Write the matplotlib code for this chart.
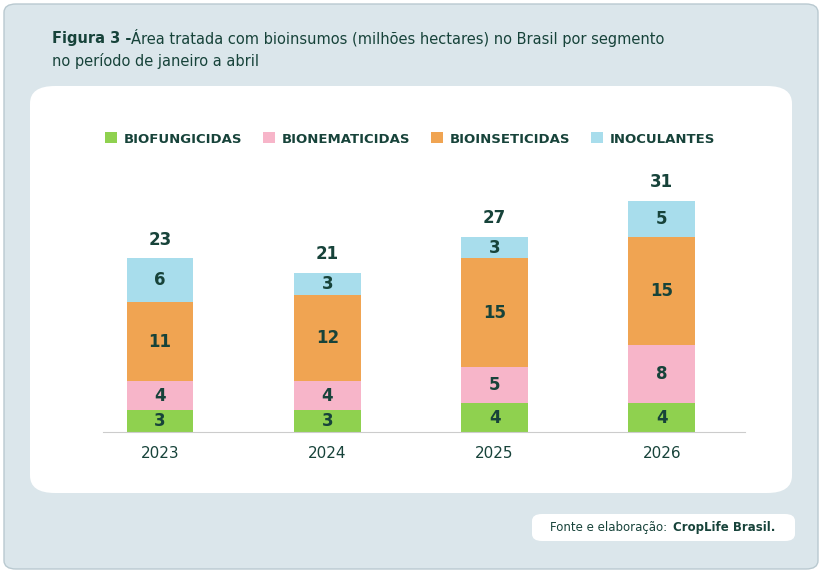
import matplotlib.pyplot as plt
from matplotlib.patches import FancyBboxPatch

anos = ['2023', '2024', '2025', '2026']
biofungicidas = [3, 3, 4, 4]
bionematicidas = [4, 4, 5, 8]
bioinseticidas = [11, 12, 15, 15]
inoculantes = [6, 3, 3, 5]
totais = [23, 21, 27, 31]

series = [('BIOFUNGICIDAS', biofungicidas, '#8fd14f'),
          ('BIONEMATICIDAS', bionematicidas, '#f7b5c9'),
          ('BIOINSETICIDAS', bioinseticidas, '#f0a452'),
          ('INOCULANTES', inoculantes, '#a8ddec')]
dark = '#17433a'

W, H = 823, 574
fig = plt.figure(figsize=(W/100, H/100), dpi=100)
fig.patch.set_facecolor('white')

def box(x0, y0, x1, y1, fc, ec='none', r=15):
    fig.patches.append(FancyBboxPatch((x0/W, 1-y1/H), (x1-x0)/W, (y1-y0)/H,
                       boxstyle=f'round,pad=0,rounding_size={r/W}',
                       transform=fig.transFigure, fc=fc, ec=ec, lw=1, zorder=-5))

box(4, 4, 818, 569, '#dbe6eb', '#b9c9d0', 12)
box(30, 86, 792, 493, 'white', r=25)
box(532, 514, 795, 541, 'white', r=10)

fig.text(52/W, 1-38/H, 'Figura 3 -', fontsize=10.5, fontweight='bold', color=dark, va='center')
fig.text(131/W, 1-38/H, 'Área tratada com bioinsumos (milhões hectares) no Brasil por segmento',
         fontsize=10.5, color=dark, va='center')
fig.text(52/W, 1-61/H, 'no período de janeiro a abril', fontsize=10.5, color=dark, va='center')
fig.text(550/W, 1-527/H, 'Fonte e elaboração: ', fontsize=8.5, color=dark, va='center')
fig.text(673/W, 1-527/H, 'CropLife Brasil.', fontsize=8.5, fontweight='bold', color=dark, va='center')

ax = fig.add_axes([103/W, 142/H, 642/W, 282/H])
x = range(len(anos))
bottom = [0]*4
for nome, vals, cor in series:
    ax.bar(x, vals, 0.40, bottom=bottom, color=cor, label=nome)
    for i, v in enumerate(vals):
        ax.text(i, bottom[i] + v/2, str(v), ha='center', va='center',
                fontsize=12, fontweight='bold', color=dark)
    bottom = [b + v for b, v in zip(bottom, vals)]
for i, t in enumerate(totais):
    ax.text(i, bottom[i] + 2.6, str(t), ha='center', va='center',
            fontsize=12, fontweight='bold', color=dark)

ax.set_xlim(-0.341, 3.497)
ax.set_ylim(0, 39)
ax.set_xticks(list(x))
ax.set_xticklabels(anos, fontsize=11, color=dark)
ax.tick_params(length=0, pad=10)
ax.set_yticks([])
for s in ['top', 'right', 'left']:
    ax.spines[s].set_visible(False)
ax.spines['bottom'].set_color('#cccccc')

leg = fig.legend(loc='center', bbox_to_anchor=(410/W, 1-139/H), ncol=4, frameon=False,
                 fontsize=9.5, handlelength=0.9, handleheight=0.9, columnspacing=1.6,
                 handletextpad=0.5)
for t in leg.get_texts():
    t.set_color(dark)
    t.set_fontweight('bold')

fig.savefig('out.png', dpi=100)
